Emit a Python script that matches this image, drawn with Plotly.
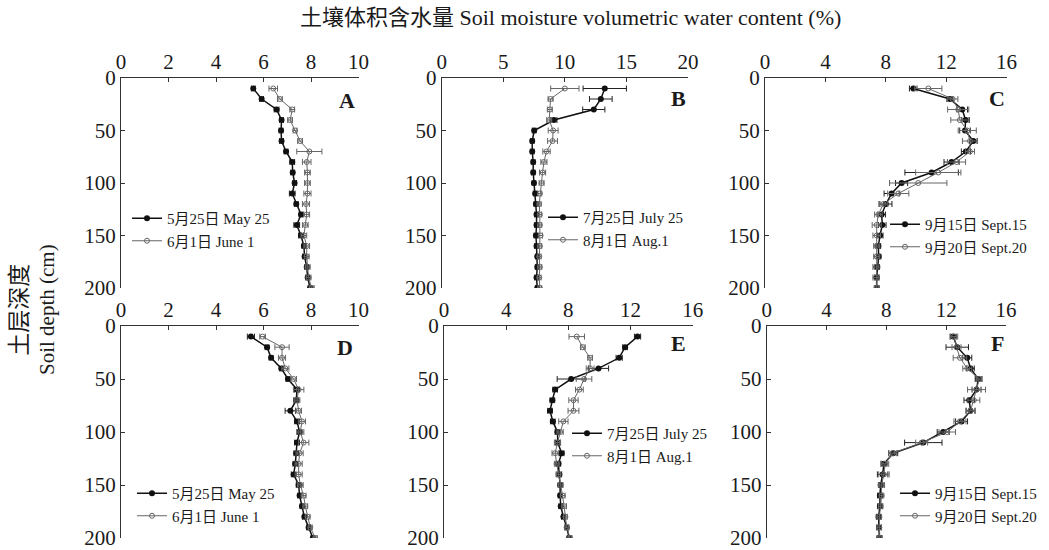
import plotly.graph_objects as go

depth = [10, 20, 30, 40, 50, 60, 70, 80, 90, 100, 110, 120, 130, 140, 150, 160, 170, 180, 190, 200]

# Panel A (May 25 / June 1)
a_may25 = [5.57, 5.92, 6.55, 6.76, 6.74, 6.76, 6.95, 7.21, 7.23, 7.31, 7.21, 7.38, 7.58, 7.40, 7.58, 7.70, 7.73, 7.82, 7.86, 7.96]
a_may25_err = [0.08, 0.08, 0.10, 0.08, 0.08, 0.08, 0.08, 0.10, 0.08, 0.08, 0.12, 0.08, 0.08, 0.12, 0.10, 0.08, 0.08, 0.08, 0.08, 0.08]
a_jun1 = [6.41, 6.69, 7.21, 7.12, 7.33, 7.54, 7.93, 7.82, 7.85, 7.85, 7.85, 7.79, 7.82, 7.76, 7.70, 7.82, 7.82, 7.86, 7.90, 8.03]
a_jun1_err = [0.18, 0.10, 0.10, 0.10, 0.08, 0.10, 0.53, 0.18, 0.12, 0.12, 0.15, 0.15, 0.12, 0.12, 0.12, 0.12, 0.10, 0.10, 0.10, 0.10]

# Panel B (July 25 / Aug 1)
b_jul25 = [13.24, 12.92, 12.35, 9.11, 7.51, 7.35, 7.35, 7.43, 7.43, 7.49, 7.59, 7.65, 7.70, 7.70, 7.65, 7.70, 7.76, 7.76, 7.70, 7.76]
b_jul25_err = [1.76, 0.92, 0.90, 0.25, 0.15, 0.15, 0.15, 0.15, 0.15, 0.15, 0.15, 0.15, 0.15, 0.15, 0.15, 0.15, 0.15, 0.15, 0.15, 0.15]
b_aug1 = [10.00, 8.84, 8.78, 8.73, 9.05, 9.00, 8.51, 8.30, 8.19, 8.11, 7.97, 7.92, 7.97, 7.97, 8.03, 7.97, 7.92, 7.97, 7.92, 7.97]
b_aug1_err = [1.15, 0.20, 0.20, 0.20, 0.40, 0.40, 0.30, 0.25, 0.25, 0.20, 0.15, 0.15, 0.15, 0.15, 0.15, 0.15, 0.15, 0.15, 0.15, 0.15]

# Panel C (Sept 15 / Sept 20)
c_sep15 = [9.82, 12.25, 13.07, 13.29, 13.25, 13.80, 13.31, 12.36, 11.04, 9.05, 8.39, 8.01, 7.73, 7.77, 7.62, 7.51, 7.53, 7.44, 7.40, 7.40]
c_sep15_err = [0.25, 0.20, 0.35, 0.25, 0.35, 0.25, 0.30, 0.50, 1.77, 0.40, 0.50, 0.40, 0.25, 0.25, 0.20, 0.15, 0.15, 0.15, 0.15, 0.15]
c_sep20 = [10.82, 12.43, 12.80, 12.91, 13.40, 13.58, 13.58, 12.69, 11.48, 10.15, 8.83, 7.84, 7.51, 7.40, 7.40, 7.40, 7.40, 7.35, 7.35, 7.40]
c_sep20_err = [0.90, 0.35, 0.70, 0.60, 0.60, 0.50, 0.30, 0.60, 1.50, 1.90, 0.70, 0.30, 0.25, 0.30, 0.25, 0.20, 0.20, 0.20, 0.20, 0.15]

# Panel D (May 25 / June 1)
d_may25 = [5.47, 6.15, 6.32, 6.75, 7.03, 7.41, 7.38, 7.13, 7.41, 7.52, 7.41, 7.38, 7.34, 7.27, 7.48, 7.52, 7.62, 7.72, 7.90, 8.08]
d_may25_err = [0.15, 0.08, 0.08, 0.08, 0.08, 0.10, 0.10, 0.22, 0.10, 0.10, 0.10, 0.10, 0.10, 0.10, 0.10, 0.08, 0.08, 0.08, 0.08, 0.08]
d_jun1 = [5.96, 6.78, 6.78, 6.92, 7.27, 7.48, 7.41, 7.48, 7.62, 7.55, 7.69, 7.52, 7.48, 7.48, 7.55, 7.69, 7.76, 7.86, 7.97, 8.18]
d_jun1_err = [0.12, 0.30, 0.15, 0.15, 0.12, 0.22, 0.12, 0.12, 0.15, 0.15, 0.22, 0.15, 0.15, 0.15, 0.12, 0.10, 0.10, 0.10, 0.08, 0.08]

# Panel E (July 25 / Aug 1)
e_jul25 = [12.45, 11.65, 11.27, 9.94, 8.18, 7.15, 6.97, 6.82, 7.00, 7.30, 7.32, 7.57, 7.36, 7.42, 7.47, 7.47, 7.51, 7.68, 7.90, 8.05]
e_jul25_err = [0.20, 0.15, 0.20, 0.65, 0.90, 0.15, 0.15, 0.15, 0.15, 0.15, 0.15, 0.15, 0.15, 0.15, 0.12, 0.12, 0.12, 0.12, 0.12, 0.12]
e_aug1 = [8.54, 8.93, 9.40, 9.40, 9.01, 8.71, 8.33, 8.33, 7.68, 7.47, 7.30, 7.15, 7.25, 7.36, 7.51, 7.64, 7.73, 7.81, 7.90, 8.11]
e_aug1_err = [0.50, 0.15, 0.15, 0.25, 0.50, 0.25, 0.30, 0.35, 0.30, 0.20, 0.20, 0.20, 0.15, 0.15, 0.15, 0.15, 0.15, 0.12, 0.12, 0.12]

# Panel F (Sept 15 / Sept 20)
f_sep15 = [12.47, 12.74, 13.41, 13.63, 14.14, 14.03, 13.54, 13.63, 13.03, 11.80, 10.47, 8.46, 7.84, 7.75, 7.62, 7.57, 7.57, 7.48, 7.51, 7.53]
f_sep15_err = [0.20, 0.75, 0.30, 0.25, 0.20, 0.30, 0.35, 0.30, 0.40, 0.40, 1.25, 0.30, 0.20, 0.35, 0.15, 0.15, 0.15, 0.15, 0.15, 0.15]
f_sep20 = [12.52, 12.69, 12.92, 13.41, 14.21, 14.03, 13.85, 13.63, 12.92, 12.07, 10.36, 8.42, 7.91, 7.84, 7.68, 7.68, 7.62, 7.53, 7.53, 7.57]
f_sep20_err = [0.25, 0.30, 0.45, 0.30, 0.20, 0.60, 0.40, 0.30, 0.40, 0.55, 0.40, 0.25, 0.25, 0.35, 0.20, 0.15, 0.15, 0.15, 0.15, 0.15]

x_ranges = [[0, 10], [0, 20], [0, 16], [0, 10], [0, 16], [0, 16]]
x_dticks = [2, 5, 4, 2, 4, 4]
panel_letters = ["A", "B", "C", "D", "E", "F"]
name_pairs = [
    ["5月25日 May 25", "6月1日 June 1"],
    ["7月25日 July 25", "8月1日 Aug.1"],
    ["9月15日 Sept.15", "9月20日 Sept.20"],
    ["5月25日 May 25", "6月1日 June 1"],
    ["7月25日 July 25", "8月1日 Aug.1"],
    ["9月15日 Sept.15", "9月20日 Sept.20"],
]
series = [
    (a_may25, a_may25_err, a_jun1, a_jun1_err),
    (b_jul25, b_jul25_err, b_aug1, b_aug1_err),
    (c_sep15, c_sep15_err, c_sep20, c_sep20_err),
    (d_may25, d_may25_err, d_jun1, d_jun1_err),
    (e_jul25, e_jul25_err, e_aug1, e_aug1_err),
    (f_sep15, f_sep15_err, f_sep20, f_sep20_err),
]

W, H = 1049, 550
SERIF = "Liberation Serif, Times New Roman, Noto Sans CJK SC, serif"

# pixel layout of plot areas
x_pix = [(121, 358.5), (441.7, 688), (765, 1006.5), (121, 358.5), (444, 692.7), (766.7, 1006)]
y_pix = [(78, 288), (78, 288), (78, 288), (326, 538), (326, 538), (326, 538)]
letter_pix = [(347, 100), (678, 98), (997, 98), (345, 347), (678, 343), (997, 343)]
legend_pix = [(127, 202), (543, 201), (885, 208), (132, 477), (567, 417), (895, 477)]

fig = go.Figure()
layout = dict(
    template="none",
    width=W, height=H,
    margin=dict(l=0, r=0, t=0, b=0, autoexpand=False),
    paper_bgcolor="white", plot_bgcolor="white",
    font=dict(family=SERIF, color="#1a1a1a", size=18),
    showlegend=True,
    annotations=[],
)

for i in range(6):
    k = i + 1
    xa = "x" if k == 1 else f"x{k}"
    ya = "y" if k == 1 else f"y{k}"
    lg = "legend" if k == 1 else f"legend{k}"
    s1, e1, s2, e2 = series[i]
    n1, n2 = name_pairs[i]
    fig.add_trace(go.Scatter(
        x=s1, y=depth, name=n1, mode="lines+markers", xaxis=xa, yaxis=ya, legend=lg,
        line=dict(color="#111111", width=1.5),
        marker=dict(symbol="circle", size=6, color="#111111"),
        error_x=dict(type="data", array=e1, visible=True, color="#222222", thickness=1, width=3),
    ))
    fig.add_trace(go.Scatter(
        x=s2, y=depth, name=n2, mode="lines+markers", xaxis=xa, yaxis=ya, legend=lg,
        line=dict(color="#666666", width=1),
        marker=dict(symbol="circle-open", size=5, color="#666666", line=dict(width=1)),
        error_x=dict(type="data", array=e2, visible=True, color="#666666", thickness=1, width=3),
    ))
    x0, x1 = x_pix[i]
    yt, yb = y_pix[i]
    layout[f"xaxis{k}"] = dict(
        domain=[x0 / W, x1 / W], range=x_ranges[i], dtick=x_dticks[i], tick0=0,
        side="top", anchor=ya, showline=True, linecolor="#333333", linewidth=1,
        ticks="inside", ticklen=4, tickcolor="#333333", showgrid=False, zeroline=False,
        automargin=False, ticklabeloverflow="allow",
        tickfont=dict(family=SERIF, size=21, color="#1a1a1a"), fixedrange=True,
    )
    layout[f"yaxis{k}"] = dict(
        domain=[1 - yb / H, 1 - yt / H], range=[200, 0], dtick=50, tick0=0,
        anchor=xa, showline=True, linecolor="#333333", linewidth=1,
        ticks="inside", ticklen=4, tickcolor="#333333", showgrid=False, zeroline=False,
        automargin=False, ticklabeloverflow="allow",
        tickfont=dict(family=SERIF, size=21, color="#1a1a1a"), fixedrange=True,
    )
    lx, ly = legend_pix[i]
    layout[lg] = dict(
        x=lx / W, y=1 - ly / H, xanchor="left", yanchor="top",
        bgcolor="rgba(0,0,0,0)", borderwidth=0, tracegroupgap=0,
        font=dict(family=SERIF, size=15, color="#1a1a1a"), itemwidth=30,
    )
    px, py = letter_pix[i]
    layout["annotations"].append(dict(
        x=px / W, y=1 - py / H, xref="paper", yref="paper", xanchor="center", yanchor="middle",
        text=f"<b>{panel_letters[i]}</b>",
        showarrow=False, font=dict(family=SERIF, size=22, color="#1a1a1a"),
    ))

layout["annotations"].append(dict(
    x=570 / W, y=1 - 18 / H, xref="paper", yref="paper", xanchor="center", yanchor="middle",
    text="土壤体积含水量 Soil moisture volumetric water content (%)",
    showarrow=False, font=dict(family=SERIF, size=22, color="#1a1a1a"),
))
layout["annotations"].append(dict(
    x=33 / W, y=1 - 310 / H, xref="paper", yref="paper", xanchor="center", yanchor="middle",
    text="<span style=\"font-size:23px\">土层深度</span><br>Soil depth (cm)", textangle=-90,
    showarrow=False, font=dict(family=SERIF, size=21, color="#1a1a1a"),
))

fig.update_layout(**layout)
fig.write_html("out.html")
